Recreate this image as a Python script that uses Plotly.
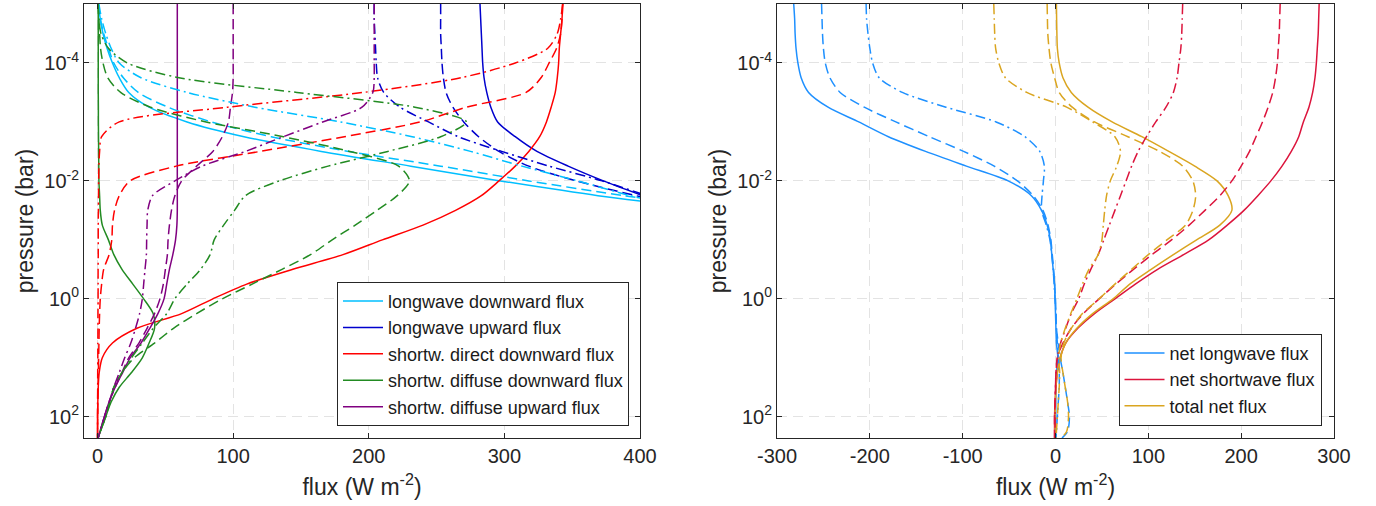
import plotly.graph_objects as go

# pressure levels (bar), shared by every profile
PRESSURE = [1.0e-5, 1.78e-5, 3.16e-5, 5.62e-5, 1.0e-4, 1.78e-4, 3.16e-4, 5.62e-4,
            1.0e-3, 1.78e-3, 3.16e-3, 5.62e-3, 1.0e-2, 1.78e-2, 3.16e-2, 5.62e-2,
            0.1, 0.178, 0.316, 0.562, 1.0, 1.78, 3.16, 5.62,
            10.0, 17.8, 31.6, 56.2, 100.0, 178.0, 229.0]

N = None

# ---- left panel: flux components (W m-2); solid / dashed / dash-dot cases
lw_down_solid = [0.5, 2, 4, 7, 11, 16, 23, 38, 66, 108, 165, 231, 297, 369, 460,
                 N, N, N, N, N, N, N, N, N, N, N, N, N, N, N, N]
lw_down_dash = [0.5, 2, 4.5, 8, 12, 19, 30, 52, 84, 128, 185, 253, 318, 388, 470,
                N, N, N, N, N, N, N, N, N, N, N, N, N, N, N, N]
lw_down_dashdot = [1, 3, 6, 10, 16, 32, 66, 116, 179, 232, 275, 313, 354, 393, 440,
                   N, N, N, N, N, N, N, N, N, N, N, N, N, N, N, N]

lw_up_solid = [282, 282.5, 283, 283.5, 284, 285, 287, 290, 295, 308, 324, 347, 373, 402,
               N, N, N, N, N, N, N, N, N, N, N, N, N, N, N, N, N]
lw_up_dash = [253, 253, 253, 253.5, 254, 255, 257, 262, 270, 281, 296, 318, 353, 397, 445,
              N, N, N, N, N, N, N, N, N, N, N, N, N, N, N, N]
lw_up_dashdot = [204, 204, 204.5, 205, 205.5, 206.5, 211, 223, 244, 266, 298, 333, 372, 405,
                 N, N, N, N, N, N, N, N, N, N, N, N, N, N, N, N, N]

sw_dir_solid = [343, 342.5, 341.5, 340.5, 340, 339, 337.5, 334.5, 331, 326, 318, 308, 296,
                283, 264, 240, 210, 181, 144, 110, 85, 62, 29, 11, 3.5, 1.2, 0.5, 0.2, 0, 0, 0]
sw_dir_dash = [343, 342.5, 341.5, 338.5, 333, 327, 316, 272, 238, 182, 120, 58, 24, 16,
               12.5, 11, 10.5, 8.5, 4.5, 3, 2, 1.5, 1.2, 1, 0.8, 0.6, 0.4, 0.2, 0.1, 0, 0]
sw_dir_dashdot = [343, 341.5, 339, 332, 308, 268, 196, 96, 16, 3, 1.5, 1, 0.8, 0.7, 0.6,
                  0.5, 0.5, 0.5, 0.4, 0.4, 0.4, 0.3, 0.3, 0.2, 0.2, 0.1, 0.1, 0, 0, 0, 0]

sw_dif_down_solid = [0.5, 0.5, 0.5, 0.5, 0.5, 0.5, 0.5, 0.6, 0.6, 0.7, 0.8, 0.9, 1, 1.5,
                     2, 3.5, 8, 12, 18, 26, 34, 41, 42, 38, 33, 25, 16, 10, 6, 2, 0.4]
sw_dif_down_dash = [0.5, 1, 1.5, 2.2, 4, 7.5, 17, 39, 80, 137, 186, 222, 230, 221, 206,
                    190, 173, 157, 136, 114, 92, 73, 56, 42, 27, 18, 12, 9, 6, 2, 0.4]
sw_dif_down_dashdot = [0.5, 1, 2.5, 8, 22, 60, 147, 234, 272, 253, 214, 170, 134, 109,
                       101, 93, 86, 83, 76, 66, 57, 51, 41, 33, 25, 18, 12, 9, 6, 2, 0.4]

sw_dif_up_solid = [58.8, 58.8, 58.8, 58.8, 58.8, 58.8, 58.8, 58.8, 58.8, 58.8, 58.8, 58.8,
                   58.8, 58.8, 58.8, 58.5, 57.5, 55.5, 53, 51, 49, 44.5, 38.5, 32, 24,
                   18.5, 13, 8.5, 5, 1.8, 0.4]
sw_dif_up_dash = [100, 100, 100, 100, 100, 100, 99.5, 98, 96.5, 92, 85, 73, 62, 57, 54.5,
                  53, 52, 51.5, 50, 48.5, 46, 42, 36.5, 30.5, 23, 18, 13, 8.5, 5, 1.8, 0.4]
sw_dif_up_dashdot = [204, 204, 204, 204, 204, 204, 203, 195, 166, 137, 109, 77, 57, 40.5,
                     37, 36.5, 36.2, 36, 35, 34, 33, 31, 28, 24.5, 20, 16, 12, 8.5, 5, 1.8, 0.4]

# ---- right panel: net fluxes (W m-2)
net_lw_solid = [-282, -281, -280.5, -279.5, -277.5, -274, -266, -245, -212, -180, -140, -96,
                -51, -26, -15, -9, -5.5, -4, -2.5, -1, -0.5, 0, 0.5, 1, 2.5, 1, 0.5,
                0.3, 0.3, 0.3, 0.3]
net_lw_dash = [-252, -251.5, -251, -250, -248, -243, -232, -206, -172, -136, -99, -66,
               -41, -24, -13.5, -8, -5, -3.5, -2, -1, 0, 0.5, 1, 3, 5, 8, 10.5, 13, 15, 13, 7]
net_lw_dashdot = [-204, -203.5, -202, -200, -197, -190, -165, -118, -64, -33, -17, -12,
                  -13, -14.5, -15, -10, -6, -4, -2.5, -1.5, -0.5, 0.5, 1, 2, 3, 4, 4, 3,
                  2, 1, 0.5]

net_sw_solid = [284, 283.5, 283, 282, 281, 279.5, 277, 273, 267, 262, 254, 244, 232, 218,
                203, 185, 165, 138, 110, 86, 64, 42, 24, 11, 5, 2, 0.5, -0.5, -1, -1, -1]
net_sw_dash = [242, 241.5, 241, 240, 239, 237, 234, 229, 223, 216, 209, 200, 190, 177,
               161, 144, 125, 104, 84, 65, 47, 30, 17, 8, 2, 0.5, 0, -0.5, -1, -1, -1]
net_sw_dashdot = [137, 136.5, 136, 135, 133, 131, 127, 119, 108, 98, 89, 82, 76, 70, 64,
                  58, 52, 46, 38, 31, 25, 17, 11, 5.5, 2, 0.5, 0, -0.5, -0.5, -0.5, -0.5]

net_tot_solid = [1, 1.2, 1.5, 2, 4, 8, 17, 35, 61, 93, 122, 150, 174, 186, 190, 177, 152,
                 127, 103, 80, 62, 40, 23, 11, 5, 2, 0.5, 0, -0.5, -0.5, -0.5]
net_tot_dash = [-9, -8.7, -8.3, -7, -5, -1, 4, 18, 42, 78, 112, 137, 148, 151, 148, 140,
                120, 100, 82, 64, 47, 29, 17, 9, 6, 8, 10.5, 13, 14, 12, 6]
net_tot_dashdot = [-66.5, -66, -65.5, -64.5, -61, -54, -31, 12, 40, 64, 70, 66, 59, 55,
                   53, 51.5, 50, 46, 36, 29, 23, 16.5, 10.5, 5.5, 3.5, 4.5, 4, 3, 2, 1, 0.5]

left_series = [
    ("longwave downward flux", "#00bfff",
     [lw_down_solid, lw_down_dash, lw_down_dashdot]),
    ("longwave upward flux", "#0000cd",
     [lw_up_solid, lw_up_dash, lw_up_dashdot]),
    ("shortw. direct downward flux", "#ff0000",
     [sw_dir_solid, sw_dir_dash, sw_dir_dashdot]),
    ("shortw. diffuse downward flux", "#228b22",
     [sw_dif_down_solid, sw_dif_down_dash, sw_dif_down_dashdot]),
    ("shortw. diffuse upward flux", "#800080",
     [sw_dif_up_solid, sw_dif_up_dash, sw_dif_up_dashdot]),
]
right_series = [
    ("net longwave flux", "#1e90ff", [net_lw_solid, net_lw_dash, net_lw_dashdot]),
    ("net shortwave flux", "#dc143c", [net_sw_solid, net_sw_dash, net_sw_dashdot]),
    ("total net flux", "#daa520", [net_tot_solid, net_tot_dash, net_tot_dashdot]),
]

DASHES = ["solid", "10px,5px", "10px,4px,2px,4px"]
FONT = "Liberation Sans, Arial, Helvetica, sans-serif"
AX = "#262626"
GRID = "#e3e3e3"

fig = go.Figure()

for axis_id, legend_id, series in [("", "legend", left_series),
                                   ("2", "legend2", right_series)]:
    # solid cases carry the legend entries
    for k in (0, 1, 2):
        for name, color, cases in series:
            fig.add_trace(go.Scatter(
                x=cases[k], y=PRESSURE,
                mode="lines",
                name=name,
                line=dict(color=color, width=1.5, dash=DASHES[k],
                          shape="spline", smoothing=0.8),
                showlegend=(k == 0),
                legend=legend_id,
                xaxis="x" + axis_id, yaxis="y" + axis_id,
                hoverinfo="skip",
            ))

common_axis = dict(
    showline=True, linecolor=AX, linewidth=1, mirror="ticks",
    ticks="inside", ticklen=5, tickcolor=AX,
    showgrid=True, gridcolor=GRID, gridwidth=1, griddash="10px,6px",
    zeroline=False,
    tickfont=dict(family=FONT, size=20, color=AX),
)

y_ticks = dict(
    type="log",
    range=[2.36, -5],
    tickvals=[1e-4, 1e-2, 1, 1e2],
    ticktext=["10<sup>-4</sup>", "10<sup>-2</sup>", "10<sup>0</sup>", "10<sup>2</sup>"],
    title=dict(text="pressure (bar)", font=dict(family=FONT, size=23, color=AX),
               standoff=4),
)

x_title = dict(text="flux (W m<sup>-2</sup>)", font=dict(family=FONT, size=23, color=AX),
               standoff=12)

legend_common = dict(
    bgcolor="white", bordercolor=AX, borderwidth=1,
    font=dict(family=FONT, size=18, color="#1a1a1a"),
    xanchor="right", yanchor="bottom",
    tracegroupgap=0, itemwidth=40,
)

fig.update_layout(
    width=1376, height=506,
    margin=dict(l=84, r=42, t=4, b=68),
    paper_bgcolor="white", plot_bgcolor="white",
    xaxis=dict(domain=[0, 0.4448], range=[-10, 400],
               tickvals=[0, 100, 200, 300, 400], ticktext=["0", "100", "200", "300", "400"],
               title=x_title, anchor="y", **common_axis),
    yaxis=dict(domain=[0, 1], anchor="x", **y_ticks, **common_axis),
    xaxis2=dict(domain=[0.5544, 1], range=[-300, 300],
                tickvals=[-300, -200, -100, 0, 100, 200, 300],
                ticktext=["-300", "-200", "-100", "0", "100", "200", "300"],
                title=x_title, anchor="y2", **common_axis),
    yaxis2=dict(domain=[0, 1], anchor="x2", **y_ticks, **common_axis),
    legend=dict(x=0.436, y=0.028, **legend_common),
    legend2=dict(x=0.990, y=0.028, **legend_common),
    showlegend=True,
)

# the page body has a default 8px margin; drop it so the figure sits at (0, 0)
fig.write_html("out.html", config={"displayModeBar": False},
               post_script="document.body.style.margin='0px';")
